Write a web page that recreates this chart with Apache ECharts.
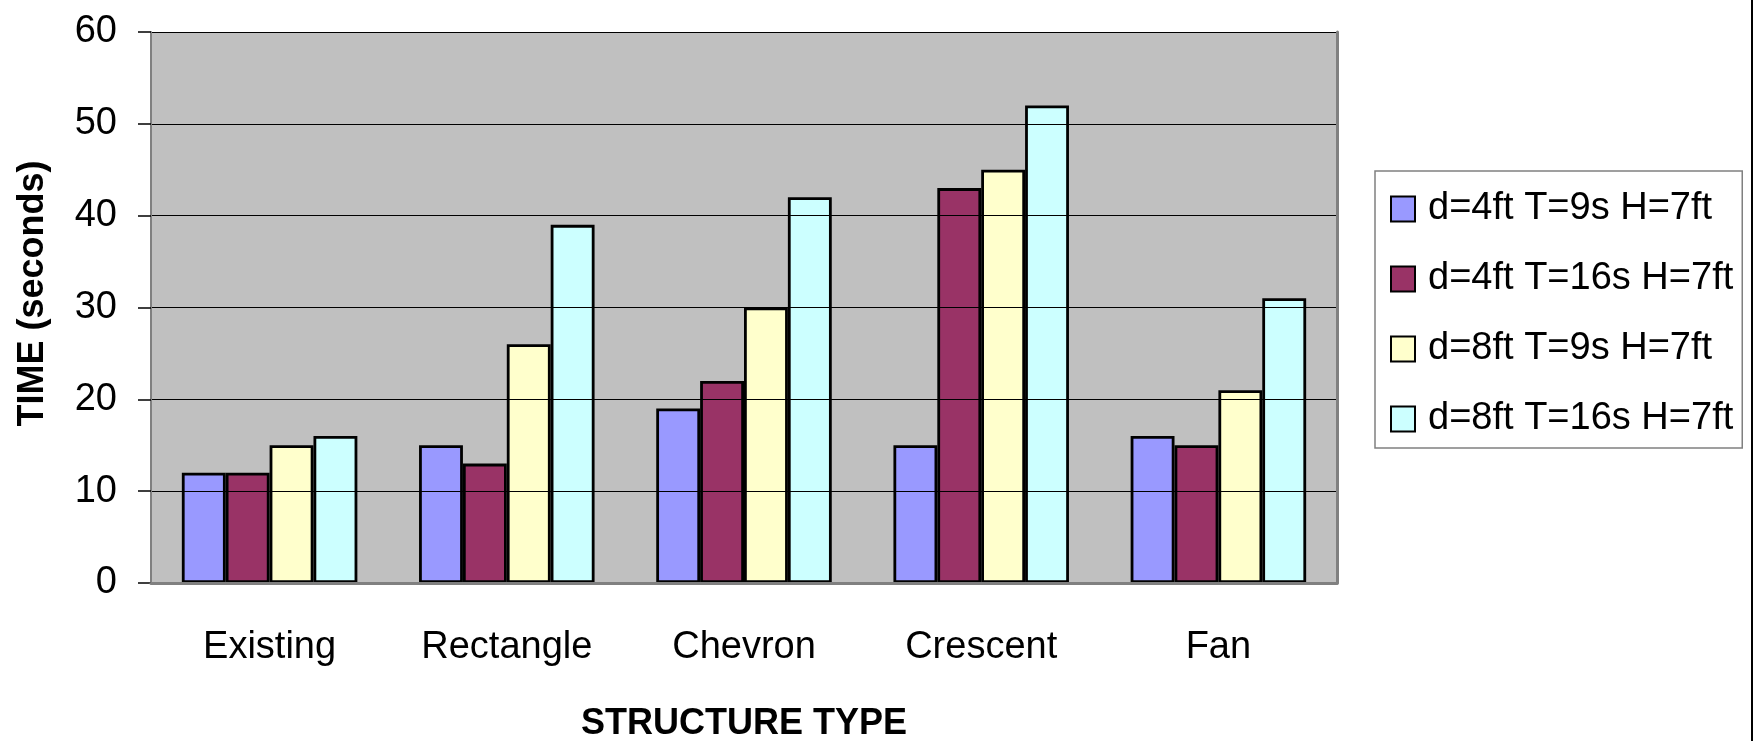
<!DOCTYPE html>
<html>
<head>
<meta charset="utf-8">
<script src="https://cdn.jsdelivr.net/npm/echarts@6/dist/echarts.min.js"></script>
<style>
  html, body { margin: 0; padding: 0; background: #ffffff; }
  #chart { width: 1754px; height: 741px; }
</style>
</head>
<body>
<div id="chart"></div>
<script>
const categories = ['Existing', 'Rectangle', 'Chevron', 'Crescent', 'Fan']
const seriesNames = ['d=4ft T=9s H=7ft', 'd=4ft T=16s H=7ft', 'd=8ft T=9s H=7ft', 'd=8ft T=16s H=7ft']
const d4T9 = [12, 15, 19, 15, 16]
const d4T16 = [12, 13, 22, 43, 15]
const d8T9 = [15, 26, 30, 45, 21]
const d8T16 = [16, 39, 42, 52, 31]
const colors = ['#9999FF', '#993366', '#FFFFCC', '#CCFFFF']

const font = 'Liberation Sans, Arial, sans-serif'
const chart = echarts.init(document.getElementById('chart'))

const makeSeries = (name, data, i) => ({
  name,
  type: 'bar',
  data,
  barGap: '0%',
  barCategoryGap: '26%',
  itemStyle: { color: colors[i], borderColor: '#000000', borderWidth: 2.8 }
})

const option = {
  animation: false,
  backgroundColor: '#ffffff',
  textStyle: { fontFamily: font, color: '#000000' },
  grid: {
    left: 151, top: 32, right: 417, bottom: 158,
    outerBoundsMode: 'none',
    containLabel: false,
    show: true,
    backgroundColor: '#C0C0C0',
    borderWidth: 0
  },
  legend: {
    orient: 'vertical',
    left: 1375,
    top: 171,
    padding: [19, 9, 10, 15],
    itemWidth: 24,
    itemHeight: 25,
    itemGap: 32,
    borderColor: '#808080',
    borderWidth: 1.5,
    backgroundColor: '#ffffff',
    icon: 'rect',
    textStyle: { fontFamily: font, fontSize: 38, color: '#000000', padding: [0, 0, 0, 8] },
    data: seriesNames
  },
  xAxis: [
    {
      type: 'category',
      data: categories,
      name: 'STRUCTURE TYPE',
      nameLocation: 'middle',
      nameGap: 123,
      nameTextStyle: { fontFamily: font, fontSize: 36, fontWeight: 'bold', color: '#000000' },
      axisLine: { lineStyle: { color: '#000000', width: 2 } },
      axisTick: { length: 14, lineStyle: { color: '#555555', width: 1.5 } },
      axisLabel: { fontFamily: font, fontSize: 38, color: '#000000', margin: 46 },
      z: 3
    },
    {
      type: 'category',
      data: categories,
      position: 'top',
      axisLine: { lineStyle: { color: '#808080', width: 3 } },
      axisTick: { show: false },
      axisLabel: { show: false },
      z: 5
    }
  ],
  yAxis: [
    {
      type: 'value',
      min: 0,
      max: 60,
      interval: 10,
      name: 'TIME (seconds)',
      nameLocation: 'middle',
      nameGap: 100,
      nameTextStyle: { fontFamily: font, fontSize: 36, fontWeight: 'bold', color: '#000000', padding: [0, 0, 0, 28] },
      axisLine: { show: true, lineStyle: { color: '#808080', width: 2 } },
      axisTick: { show: true, length: 13, lineStyle: { color: '#000000', width: 1.5 } },
      axisLabel: { fontFamily: font, fontSize: 38, color: '#000000', margin: 34 },
      splitLine: { lineStyle: { color: '#000000', width: 1.2 } },
      z: 3
    },
    {
      type: 'value',
      min: 0,
      max: 60,
      interval: 10,
      position: 'right',
      axisLine: { show: true, lineStyle: { color: '#808080', width: 3 } },
      axisTick: { show: false },
      axisLabel: { show: false },
      splitLine: { show: false },
      z: 5
    }
  ],
  graphic: [
    {
      type: 'rect',
      right: 1,
      top: 0,
      shape: { width: 2, height: 741 },
      style: { fill: '#000000' }
    }
  ],
  series: [
    makeSeries(seriesNames[0], d4T9, 0),
    makeSeries(seriesNames[1], d4T16, 1),
    makeSeries(seriesNames[2], d8T9, 2),
    makeSeries(seriesNames[3], d8T16, 3)
  ]
}

chart.setOption(option)
</script>
</body>
</html>
